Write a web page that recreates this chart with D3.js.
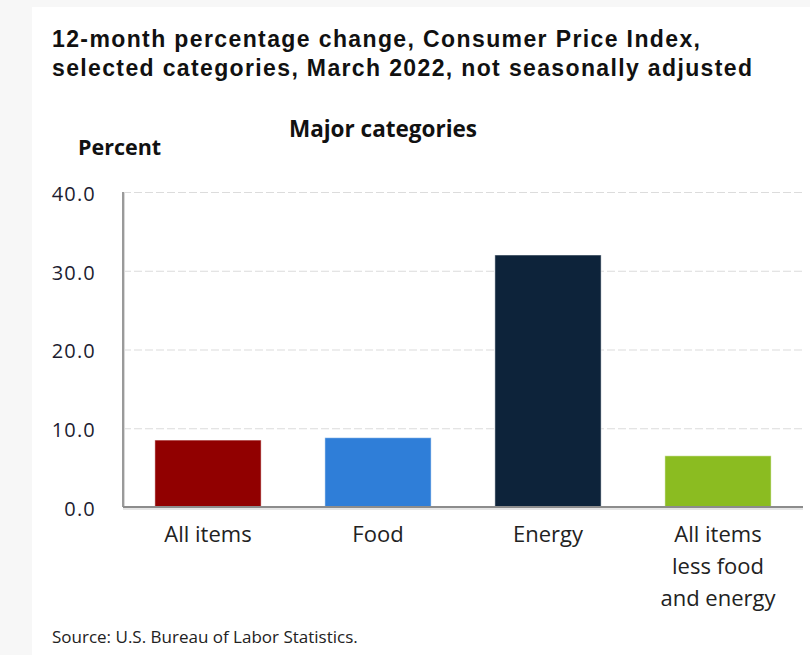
<!DOCTYPE html>
<html>
<head>
<meta charset="utf-8">
<script src="https://cdn.jsdelivr.net/npm/d3@7"></script>
<style>
  body { margin: 0; background: #fff; }
  svg { display: block; }
</style>
</head>
<body>
<div id="chart"></div>
<script>
// the data
const categories = ["All items", "Food", "Energy", "All items less food and energy"];
const values = [8.5, 8.8, 32.0, 6.5];
const barColors = ["#910000", "#2f7ed8", "#0d233a", "#8bbc21"];
const yTicks = [0, 10, 20, 30, 40];
const titleLines = ["12-month percentage change, Consumer Price Index,",
                    "selected categories, March 2022, not seasonally adjusted"];

const width = 810, height = 655;
const plot = { left: 123, right: 803, top: 192, bottom: 507 };
// widths the two title lines take in the reference
const titleWidths = [648, 700];

const svg = d3.select("#chart").append("svg")
    .attr("width", width).attr("height", height);

// light frame at the left and top edge
svg.append("rect").attr("x", 0).attr("y", 0).attr("width", width).attr("height", 7).attr("fill", "#f7f7f7");
svg.append("rect").attr("x", 0).attr("y", 0).attr("width", 32).attr("height", height).attr("fill", "#f7f7f7");

// title
svg.append("g").selectAll("text").data(titleLines).join("text")
    .attr("x", 52).attr("y", (d, i) => 47 + i * 29)
    .attr("textLength", (d, i) => titleWidths[i]).attr("lengthAdjust", "spacing")
    .style("font-family", "'Liberation Sans', Arial, sans-serif")
    .style("font-weight", "bold").style("font-size", "23px")
    .attr("fill", "#111").text(d => d);

// scales
const xScale = d3.scaleBand().domain(categories)
    .range([plot.left, plot.right]).paddingInner(0.375).paddingOuter(0.1875);
const yScale = d3.scaleLinear().domain([0, 40]).range([plot.bottom, plot.top]);

// gridlines
const yGrid = d3.axisLeft(yScale).tickValues(yTicks.filter(t => t > 0))
    .tickSize(-(plot.right - plot.left)).tickFormat(() => "");
svg.append("g").attr("class", "yGrid")
    .attr("transform", "translate(" + plot.left + ",0)")
    .call(yGrid)
    .call(g => g.select(".domain").remove())
    .call(g => g.selectAll("line").attr("stroke", "#dcdcdc").attr("stroke-width", 1.2)
        .attr("stroke-dasharray", "8,3"));

// y tick labels
svg.append("g").attr("class", "y-axis")
    .attr("transform", "translate(96,2)")
    .call(d3.axisLeft(yScale).tickValues(yTicks).tickSize(0).tickPadding(0).tickFormat(d3.format(".1f")))
    .call(g => g.select(".domain").remove())
    .call(g => g.selectAll("text").attr("fill", "#1c1c30")
        .style("letter-spacing", "1.2px")
        .style("font-family", "'Open Sans', 'Noto Sans', sans-serif").style("font-size", "20px"));

// bars
svg.append("g").selectAll("rect").data(values).join("rect")
    .attr("x", (d, i) => xScale(categories[i]))
    .attr("y", d => yScale(d))
    .attr("width", xScale.bandwidth())
    .attr("height", d => yScale(0) - yScale(d))
    .attr("fill", (d, i) => barColors[i])
    .attr("stroke", "#ffffff").attr("stroke-opacity", 0.5).attr("stroke-width", 1);

// axis lines with a soft shadow
svg.append("line").attr("x1", plot.left + 1).attr("x2", plot.left + 1)
    .attr("y1", plot.top + 1).attr("y2", plot.bottom + 1)
    .attr("stroke", "#d8d8d8").attr("stroke-width", 2);
svg.append("line").attr("x1", plot.left).attr("x2", plot.left)
    .attr("y1", plot.top).attr("y2", plot.bottom)
    .attr("stroke", "#9a9a9a").attr("stroke-width", 2);
svg.append("line").attr("x1", plot.left).attr("x2", plot.right)
    .attr("y1", plot.bottom + 2).attr("y2", plot.bottom + 2)
    .attr("stroke", "#e6e6e6").attr("stroke-width", 2);
svg.append("line").attr("x1", plot.left).attr("x2", plot.right)
    .attr("y1", plot.bottom).attr("y2", plot.bottom)
    .attr("stroke", "#8c8c8c").attr("stroke-width", 2);

// category labels, wrapped
const xAxis = svg.append("g").attr("class", "x-axis")
    .attr("transform", "translate(0," + plot.bottom + ")")
    .call(d3.axisBottom(xScale).tickSize(0).tickPadding(0))
    .call(g => g.select(".domain").remove());
xAxis.selectAll("text")
    .style("font-family", "'Open Sans', 'Noto Sans', sans-serif").style("font-size", "22px")
    .attr("fill", "#222").attr("dy", null).attr("y", 35)
    .each(function (d) {
        const el = d3.select(this);
        const words = d.split(" ");
        const lines = [];
        let line = [];
        el.text(null);
        const probe = el.append("tspan");
        words.forEach(w => {
            probe.text(line.concat(w).join(" "));
            if (line.length && probe.node().getComputedTextLength() > 120) {
                lines.push(line.join(" "));
                line = [w];
            } else {
                line.push(w);
            }
        });
        lines.push(line.join(" "));
        probe.remove();
        lines.forEach((l, i) => {
            el.append("tspan").attr("x", 0).attr("y", 35 + i * 32).text(l);
        });
    });

// axis title and category header
svg.append("text").attr("x", 78).attr("y", 155)
    .style("font-family", "'Open Sans', 'Noto Sans', sans-serif")
    .style("font-weight", "bold").style("font-size", "21.5px")
    .attr("fill", "#111").text("Percent");
svg.append("text").attr("x", 383).attr("y", 137).attr("text-anchor", "middle")
    .style("font-family", "'Open Sans', 'Noto Sans', sans-serif")
    .style("font-weight", "bold").style("font-size", "22.5px")
    .attr("fill", "#111").text("Major categories");

// source note
svg.append("text").attr("x", 52).attr("y", 643)
    .style("font-family", "'Open Sans', 'Noto Sans', sans-serif").style("font-size", "17px")
    .attr("fill", "#222").text("Source: U.S. Bureau of Labor Statistics.");
</script>
</body>
</html>
